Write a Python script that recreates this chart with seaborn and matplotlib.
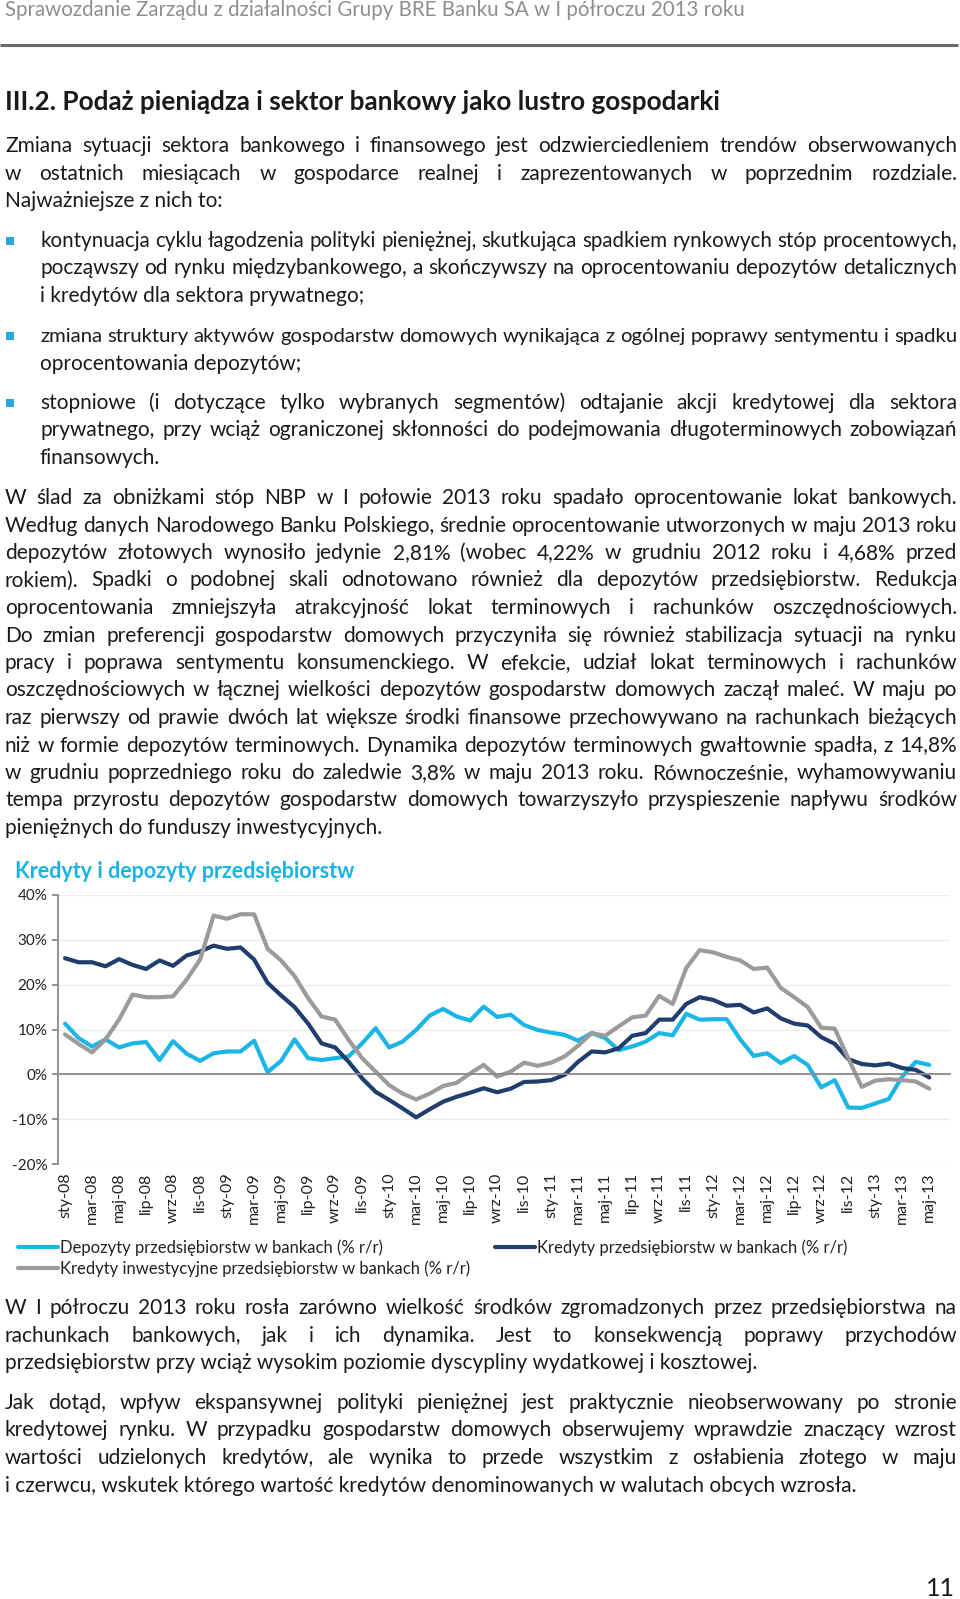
import numpy as np
import pandas as pd
import matplotlib
matplotlib.use("Agg")
import matplotlib.pyplot as plt
import seaborn as sns
from matplotlib.patches import Rectangle

# Chart data (monthly, sty-08 .. maj-13), % r/r
depozyty = [11.3, 8.1, 6.2, 7.8, 6.0, 6.9, 7.2, 3.2, 7.4, 4.6, 3.0, 4.7, 5.1, 5.1, 7.5, 0.5,
            3.0, 7.8, 3.6, 3.2, 3.6, 4.0, 6.9, 10.3, 6.0, 7.3, 9.9, 13.1, 14.6, 12.9, 12.0, 15.1,
            12.8, 13.3, 11.0, 9.9, 9.3, 8.8, 7.5, 9.2, 8.1, 5.4, 6.2, 7.3, 9.2, 8.7, 13.5, 12.2,
            12.3, 12.3, 7.8, 4.1, 4.7, 2.5, 4.1, 2.1, -2.9, -1.3, -7.4, -7.5, -6.5, -5.5, -0.5,
            2.8, 2.1]
kredyty = [25.9, 25.0, 25.0, 24.1, 25.7, 24.4, 23.5, 25.4, 24.2, 26.5, 27.4, 28.7, 28.0, 28.3,
           25.6, 20.4, 17.6, 15.0, 11.3, 6.9, 6.0, 2.8, -0.9, -3.9, -5.7, -7.6, -9.6, -7.8, -6.1,
           -5.0, -4.1, -3.1, -4.0, -3.2, -1.7, -1.6, -1.3, -0.1, 2.8, 5.1, 4.9, 5.8, 8.6, 9.2,
           12.2, 12.2, 15.7, 17.2, 16.6, 15.3, 15.5, 13.8, 14.7, 12.5, 11.3, 10.9, 8.3, 6.8, 3.4,
           2.3, 2.0, 2.4, 1.4, 1.0, -0.7]
inwestycyjne = [8.9, 6.8, 4.9, 7.8, 12.2, 17.8, 17.2, 17.2, 17.4, 21.1, 25.6, 35.4, 34.7, 35.7,
                35.7, 28.0, 25.4, 21.9, 17.0, 12.9, 12.2, 7.7, 3.6, 0.6, -2.4, -4.3, -5.6, -4.3,
                -2.6, -1.9, 0.2, 2.1, -0.5, 0.6, 2.6, 1.9, 2.6, 4.0, 6.4, 9.2, 8.6, 10.7, 12.7,
                13.1, 17.5, 15.7, 23.7, 27.7, 27.2, 26.2, 25.4, 23.5, 23.8, 19.3, 17.2, 15.0, 10.4,
                10.2, 3.6, -2.8, -1.4, -1.1, -1.3, -1.6, -3.2]
x_labels = ["sty-08", "mar-08", "maj-08", "lip-08", "wrz-08", "lis-08",
            "sty-09", "mar-09", "maj-09", "lip-09", "wrz-09", "lis-09",
            "sty-10", "mar-10", "maj-10", "lip-10", "wrz-10", "lis-10",
            "sty-11", "mar-11", "maj-11", "lip-11", "wrz-11", "lis-11",
            "sty-12", "mar-12", "maj-12", "lip-12", "wrz-12", "lis-12",
            "sty-13", "mar-13", "maj-13"]
y_ticks = [-20, -10, 0, 10, 20, 30, 40]
y_labels = ["-20%", "-10%", "0%", "10%", "20%", "30%", "40%"]
series_names = ["Depozyty przedsiębiorstw w bankach (% r/r)",
                "Kredyty przedsiębiorstw w bankach (% r/r)",
                "Kredyty inwestycyjne przedsiębiorstw w bankach (% r/r)"]
colors = ["#1cb6e6", "#1f3d6d", "#9b9b9b"]

# Page text
header = "Sprawozdanie Zarządu z działalności Grupy BRE Banku SA w I półroczu 2013 roku"
heading = "III.2. Podaż pieniądza i sektor bankowy jako lustro gospodarki"
para1 = ["Zmiana sytuacji sektora bankowego i finansowego jest odzwierciedleniem trendów obserwowanych",
         "w ostatnich miesiącach w gospodarce realnej i zaprezentowanych w poprzednim rozdziale.",
         "Najważniejsze z nich to:"]
bullets = [["kontynuacja cyklu łagodzenia polityki pieniężnej, skutkująca spadkiem rynkowych stóp procentowych,",
            "począwszy od rynku międzybankowego, a skończywszy na oprocentowaniu depozytów detalicznych",
            "i kredytów dla sektora prywatnego;"],
           ["zmiana struktury aktywów gospodarstw domowych wynikająca z ogólnej poprawy sentymentu i spadku",
            "oprocentowania depozytów;"],
           ["stopniowe (i dotyczące tylko wybranych segmentów) odtajanie akcji kredytowej dla sektora",
            "prywatnego, przy wciąż ograniczonej skłonności do podejmowania długoterminowych zobowiązań",
            "finansowych."]]
para2 = ["W ślad za obniżkami stóp NBP w I połowie 2013 roku spadało oprocentowanie lokat bankowych.",
         "Według danych Narodowego Banku Polskiego, średnie oprocentowanie utworzonych w maju 2013 roku",
         "depozytów złotowych wynosiło jedynie 2,81% (wobec 4,22% w grudniu 2012 roku i 4,68% przed",
         "rokiem). Spadki o podobnej skali odnotowano również dla depozytów przedsiębiorstw. Redukcja",
         "oprocentowania zmniejszyła atrakcyjność lokat terminowych i rachunków oszczędnościowych.",
         "Do zmian preferencji gospodarstw domowych przyczyniła się również stabilizacja sytuacji na rynku",
         "pracy i poprawa sentymentu konsumenckiego. W efekcie, udział lokat terminowych i rachunków",
         "oszczędnościowych w łącznej wielkości depozytów gospodarstw domowych zaczął maleć. W maju po",
         "raz pierwszy od prawie dwóch lat większe środki finansowe przechowywano na rachunkach bieżących",
         "niż w formie depozytów terminowych. Dynamika depozytów terminowych gwałtownie spadła, z 14,8%",
         "w grudniu poprzedniego roku do zaledwie 3,8% w maju 2013 roku. Równocześnie, wyhamowywaniu",
         "tempa przyrostu depozytów gospodarstw domowych towarzyszyło przyspieszenie napływu środków",
         "pieniężnych do funduszy inwestycyjnych."]
para3 = ["W I półroczu 2013 roku rosła zarówno wielkość środków zgromadzonych przez przedsiębiorstwa na",
         "rachunkach bankowych, jak i ich dynamika. Jest to konsekwencją poprawy przychodów",
         "przedsiębiorstw przy wciąż wysokim poziomie dyscypliny wydatkowej i kosztowej."]
para4 = ["Jak dotąd, wpływ ekspansywnej polityki pieniężnej jest praktycznie nieobserwowany po stronie",
         "kredytowej rynku. W przypadku gospodarstw domowych obserwujemy wprawdzie znaczący wzrost",
         "wartości udzielonych kredytów, ale wynika to przede wszystkim z osłabienia złotego w maju",
         "i czerwcu, wskutek którego wartość kredytów denominowanych w walutach obcych wzrosła."]
chart_title = "Kredyty i depozyty przedsiębiorstw"

sns.set_style("white")
plt.rcParams["font.family"] = ["Lato", "DejaVu Sans"]

W, H = 960, 1599
fig = plt.figure(figsize=(W / 100, H / 100), dpi=100)
fig.patch.set_facecolor("white")

# page layer in pixel coordinates
page = fig.add_axes([0, 0, 1, 1])
page.set_xlim(0, W)
page.set_ylim(H, 0)
page.axis("off")
renderer = fig.canvas.get_renderer()

TXT = "#1a1a1a"
BODY = 15
STEP = 27.5
MIN_GAP = 5
LEFT, RIGHT = 5, 957


def put_line(text, x0, x1, yc, size=BODY, justify=True):
    yb = yc + 6
    words = text.split(" ")
    if not justify or len(words) == 1:
        page.text(x0, yb, text, fontsize=size, va="baseline", color=TXT)
        return
    objs = [page.text(0, yb, w, fontsize=size, va="baseline", color=TXT) for w in words]
    widths = [o.get_window_extent(renderer).width for o in objs]
    avail = x1 - x0
    # shrink a too-long line a little so word gaps stay readable
    if sum(widths) + MIN_GAP * (len(words) - 1) > avail:
        k = (avail - MIN_GAP * (len(words) - 1)) / sum(widths)
        for o in objs:
            o.set_fontsize(size * k)
        widths = [o.get_window_extent(renderer).width for o in objs]
    gap = (avail - sum(widths)) / (len(words) - 1)
    x = x0
    for o, w in zip(objs, widths):
        o.set_x(x)
        x += w + gap


def put_paragraph(lines, x0, x1, y0):
    for k, line in enumerate(lines):
        put_line(line, x0, x1, y0 + k * STEP, justify=(k < len(lines) - 1))


# header
page.text(5, 16, header, fontsize=14.8, color="#8e8e8e", va="baseline")
page.plot([0, 958], [45, 45], color="#6a6a6a", lw=2.2, solid_capstyle="butt")
page.text(5, 110, heading, fontsize=18.8, fontweight="bold", color=TXT, va="baseline")

put_paragraph(para1, LEFT, RIGHT, 146)
for lines, y0 in zip(bullets, [241, 336, 403]):
    page.add_patch(Rectangle((6, y0 - 4), 8, 8, color="#27a8df", lw=0))
    put_paragraph(lines, 40, RIGHT, y0)
put_paragraph(para2, LEFT, RIGHT, 498)
put_paragraph(para3, LEFT, RIGHT, 1308)
put_paragraph(para4, LEFT, RIGHT, 1403)
page.text(955, 1596, "11", fontsize=18, color=TXT, ha="right", va="baseline")

# chart
page.text(15, 878, chart_title, fontsize=15.5, fontweight="bold", color="#1ab4e4", va="baseline")

n = len(depozyty)
months = np.arange(n)
df = pd.DataFrame({"m": np.tile(months, 3),
                   "v": depozyty + kredyty + inwestycyjne,
                   "s": np.repeat(series_names, n)})

ax = fig.add_axes([58.3 / W, 1 - 1164 / H, 891.2 / W, 269 / H])
ax.set_facecolor("none")
for name, col in zip(series_names, colors):
    sns.lineplot(data=df[df["s"] == name], x="m", y="v", color=col, linewidth=3,
                 label=name, ax=ax)
ax.get_legend().remove()

ax.set_xlim(-0.5, n + 0.5)
ax.set_ylim(-20, 40)
ax.set_xlabel("")
ax.set_ylabel("")
ax.set_yticks(y_ticks)
ax.set_yticklabels(y_labels, fontsize=11, color="#222222")
ax.yaxis.grid(True, color="#ececec", lw=1)
ax.set_axisbelow(True)
ax.spines["top"].set_visible(False)
ax.spines["right"].set_visible(False)
ax.spines["left"].set_color("#8a8a8a")
ax.spines["left"].set_linewidth(1.3)
ax.spines["bottom"].set_position(("data", 0))
ax.spines["bottom"].set_color("#8a8a8a")
ax.spines["bottom"].set_linewidth(1.3)
ax.set_xticks(np.arange(-0.5, n + 1, 2))
ax.tick_params(axis="x", length=4, width=1.3, color="#8a8a8a", labelbottom=False)
ax.tick_params(axis="y", length=4, width=1.3, color="#8a8a8a", pad=4, left=True)

sec = ax.secondary_xaxis("bottom")
sec.set_xticks(np.arange(0, n, 2), x_labels, rotation=90, fontsize=11.5, color="#222222")
sec.tick_params(length=0, pad=6)
sec.spines["bottom"].set_visible(False)

handles, labels = ax.get_legend_handles_labels()
order = [0, 2, 1]
fig.legend([handles[i] for i in order], [labels[i] for i in order],
           loc="upper left", bbox_to_anchor=(18 / W, 1 - 1239 / H), ncol=2,
           frameon=False, fontsize=12, handlelength=2.4, handletextpad=0.15,
           labelspacing=0.3, columnspacing=1.45, borderpad=0, borderaxespad=0,
           labelcolor="#222222")

fig.savefig("out.png", dpi=100, facecolor="white")
